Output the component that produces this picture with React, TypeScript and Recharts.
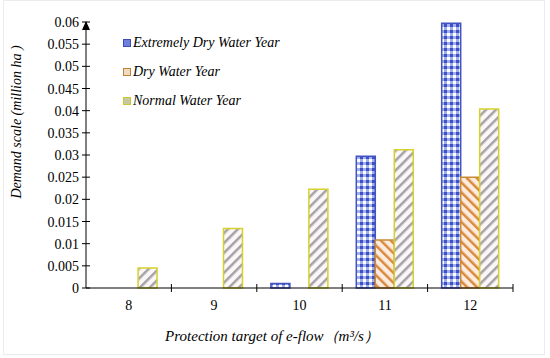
import { Bar, BarChart, Label, XAxis, YAxis } from 'recharts';

const flows = ['8', '9', '10', '11', '12'];
const extremelyDry = [0, 0, 0.001, 0.0297, 0.0597];
const dry = [0, 0, 0, 0.0108, 0.025];
const normal = [0.0045, 0.0134, 0.0223, 0.0312, 0.0404];
const yTicks = [0, 0.005, 0.01, 0.015, 0.02, 0.025, 0.03, 0.035, 0.04, 0.045, 0.05, 0.055, 0.06];

const seriesNames = ['Extremely Dry Water Year', 'Dry Water Year', 'Normal Water Year'];

const data = flows.map((f, i) => ({
    flow: f,
    ext: extremelyDry[i],
    dry: dry[i],
    normal: normal[i],
}));

const W = 550;
const H = 358;
const AXIS_X = 86;
const PLOT_RIGHT = 513;
const BAND = (PLOT_RIGHT - AXIS_X) / flows.length;
const serif = '"Liberation Serif", "Times New Roman", serif';

const legendColors = [
    { fill: '#6f7fdc', stroke: '#3e4cb8' },
    { fill: '#f3d9c0', stroke: '#b8862e' },
    { fill: '#c8c8a0', stroke: '#c9c930' },
];

function YTick({ y, payload }: any) {
    const v = payload.value;
    return (
        <g>
            <line x1={AXIS_X - 4} x2={AXIS_X + 4} y1={y} y2={y} stroke="#000" strokeWidth={1} />
            {v === 0.06 && (
                <polygon
                    points={`${AXIS_X - 4},${y + 8} ${AXIS_X + 4},${y + 8} ${AXIS_X},${y - 1}`}
                    fill="#000"
                />
            )}
            <text x={AXIS_X - 7} y={y} dy={5} textAnchor="end" fontFamily={serif} fontSize={14} fill="#000">
                {String(v)}
            </text>
        </g>
    );
}

function XTick({ x, y, payload }: any) {
    const edge = x + BAND / 2;
    return (
        <g>
            <line x1={edge} x2={edge} y1={288 - 4} y2={288 + 4} stroke="#000" strokeWidth={1} />
            <text x={x} y={y + 14} textAnchor="middle" fontFamily={serif} fontSize={14} fill="#000">
                {payload.value}
            </text>
        </g>
    );
}

function LegendBox() {
    return (
        <div
            style={{
                position: 'absolute',
                left: 123,
                top: 28,
                fontFamily: serif,
                fontStyle: 'italic',
                fontSize: 14,
                color: '#000',
            }}
        >
            {seriesNames.map((n, i) => (
                <div key={n} style={{ display: 'flex', alignItems: 'center', height: 29 }}>
                    <span
                        style={{
                            display: 'inline-block',
                            width: 6,
                            height: 6,
                            background: legendColors[i].fill,
                            border: `1.5px solid ${legendColors[i].stroke}`,
                            marginRight: 2,
                        }}
                    />
                    {n}
                </div>
            ))}
        </div>
    );
}

export default function App() {
    return (
        <div style={{ position: 'fixed', left: 0, top: 0, width: W, height: H, background: '#fff' }}>
            <div
                style={{
                    position: 'absolute',
                    left: 3,
                    top: 0,
                    width: 542,
                    height: H - 3,
                    border: '1px solid #ececec',
                    boxSizing: 'border-box',
                }}
            />
            <BarChart
                width={W}
                height={H}
                data={data}
                margin={{ top: 22, right: W - PLOT_RIGHT, left: 0, bottom: 40 }}
                barCategoryGap="16.5%"
                barGap={0}
            >
                <defs>
                    <pattern id="pExt" width="6" height="6" patternUnits="userSpaceOnUse">
                        <rect width="6" height="6" fill="#9fb0ec" />
                        <rect x="0" y="0" width="3" height="3" fill="#3f4fc4" />
                        <rect x="3" y="3" width="3" height="3" fill="#ffffff" />
                    </pattern>
                    <pattern id="pDry" width="7" height="7" patternUnits="userSpaceOnUse" patternTransform="rotate(-45)">
                        <rect width="7" height="7" fill="#fdebe0" />
                        <rect x="0" y="0" width="2.5" height="7" fill="#d9893a" />
                    </pattern>
                    <pattern id="pNormal" width="7" height="7" patternUnits="userSpaceOnUse" patternTransform="rotate(45)">
                        <rect width="7" height="7" fill="#fbf7f7" />
                        <rect x="0" y="0" width="2.5" height="7" fill="#a5a1a8" />
                    </pattern>
                </defs>
                <XAxis
                    dataKey="flow"
                    height={30}
                    axisLine={{ stroke: '#000' }}
                    tickLine={false}
                    tick={<XTick />}
                    interval={0}
                >
                    <Label
                        content={() => (
                            <text
                                x={272}
                                y={341}
                                textAnchor="middle"
                                fontFamily={serif}
                                fontStyle="italic"
                                fontSize={15}
                                fill="#000"
                            >
                                Protection target of e-flow（m³/s）
                            </text>
                        )}
                    />
                </XAxis>
                <YAxis
                    width={AXIS_X}
                    domain={[0, 0.06]}
                    ticks={yTicks}
                    interval={0}
                    axisLine={{ stroke: '#000' }}
                    tickLine={false}
                    tick={<YTick />}
                >
                    <Label
                        content={() => (
                            <text
                                x={21}
                                y={122}
                                transform="rotate(-90 21 122)"
                                textAnchor="middle"
                                fontFamily={serif}
                                fontStyle="italic"
                                fontSize={14}
                                fill="#000"
                            >
                                Demand scale (million ha )
                            </text>
                        )}
                    />
                </YAxis>
                <Bar dataKey="ext" name={seriesNames[0]} fill="url(#pExt)" stroke="#4352c2" strokeWidth={1.5} isAnimationActive={false} />
                <Bar dataKey="dry" name={seriesNames[1]} fill="url(#pDry)" stroke="#c98a34" strokeWidth={1.5} isAnimationActive={false} />
                <Bar dataKey="normal" name={seriesNames[2]} fill="url(#pNormal)" stroke="#d6d22c" strokeWidth={1.5} isAnimationActive={false} />
            </BarChart>
            <LegendBox />
        </div>
    );
}
